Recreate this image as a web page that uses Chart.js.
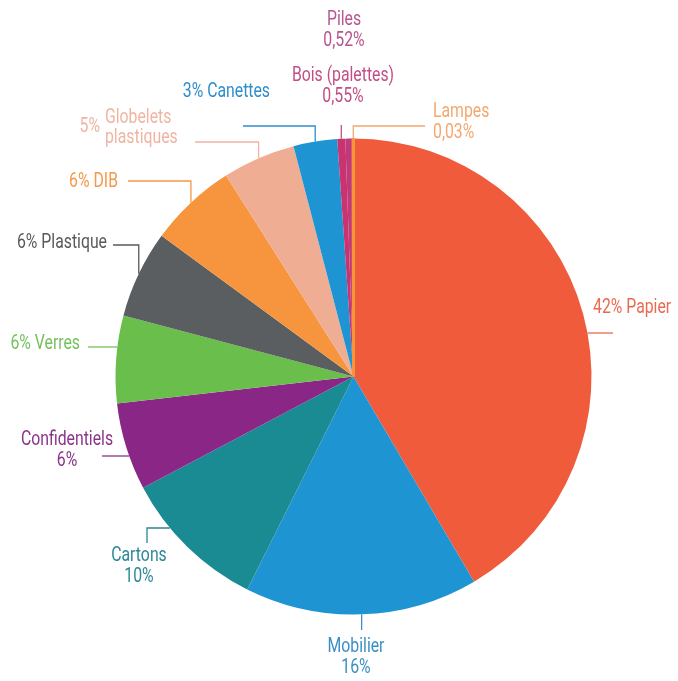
<!DOCTYPE html>
<html>
<head>
<meta charset="utf-8">
<script src="https://cdn.jsdelivr.net/npm/chart.js@4"></script>
<style>
  html, body { margin: 0; padding: 0; background: #ffffff; }
  #wrap { width: 678px; height: 681px; position: relative; }
</style>
</head>
<body>
<div id="wrap"><canvas id="c" width="678" height="681"></canvas></div>
<script>
// ---- data ----
const categories = ['Papier', 'Mobilier', 'Cartons', 'Confidentiels', 'Verres', 'Plastique', 'DIB',
                    'Globelets plastiques', 'Canettes', 'Bois (palettes)', 'Piles', 'Lampes'];
const shares = [42, 16, 10, 6, 6, 6, 6, 5, 3, 0.55, 0.52, 0.03];
const shareLabels = ['42%', '16%', '10%', '6%', '6%', '6%', '6%', '5%', '3%', '0,55%', '0,52%', '0,03%'];

// ---- styles ----
const sliceColors = ['#f05b3b', '#1f94d2', '#1a8a93', '#8a2686', '#69be4c', '#5b5e60', '#f7953e',
                     '#efae94', '#1f94d2', '#c93370', '#c0397a', '#f7953e'];
const textColors = ['#ea6a4f', '#3b8fc6', '#2c8796', '#8a348a', '#74c05e', '#58595b', '#f59847',
                    '#f0b4a2', '#2d8ecb', '#c14f85', '#b75590', '#f3a86f'];
const sliceBorders = [0, 0, 0, 0, 0, 0, 0, 0, 0, 0, 0, 3];

// label layout (text placement + leader routing)
const labelLayout = [
  { style: 'inline', x: 593, y: 308, align: 'left', leader: { type: 'h', y: 333, x: 613 } },
  { style: 'stack', x: 356, y: 647, align: 'center', leader: { type: 'v', y: 630 } },
  { style: 'stack', x: 139, y: 556, align: 'center', leader: { type: 'h', y: 528, x: 147, drop: 543 } },
  { style: 'stack', x: 67, y: 440, align: 'center', leader: { type: 'h', y: 456, x: 102 } },
  { style: 'inline', x: 80, y: 344, align: 'right', leader: { type: 'h', y: 347, x: 88 } },
  { style: 'inline', x: 107, y: 243, align: 'right', leader: { type: 'vh', y: 245, x: 113 } },
  { style: 'inline', x: 118, y: 182, align: 'right', leader: { type: 'vh', y: 181, x: 128 } },
  { style: 'split', x: 102, y: 127, align: 'left', leader: { type: 'vh', y: 142, x: 195 } },
  { style: 'inline', x: 270, y: 92, align: 'right', leader: { type: 'vh', y: 126, x: 243 } },
  { style: 'stack', x: 343, y: 76, align: 'center', leader: { type: 'v', y: 125 } },
  { style: 'stack', x: 344, y: 20, align: 'center', leader: null },
  { style: 'stack', x: 433, y: 112, align: 'left', leader: { type: 'vh', y: 126, x: 425 } }
];

const FONT = '400 20px Roboto, "Liberation Sans", sans-serif';
const SX = 0.79;      // horizontal compression to mimic a condensed face
const LINE_H = 21;

function narrowText(ctx, str, x, y, align) {
  ctx.save();
  ctx.translate(x, y);
  ctx.scale(SX, 1);
  ctx.textAlign = align;
  ctx.textBaseline = 'middle';
  ctx.fillText(str, 0, 0);
  ctx.restore();
}

const labelPlugin = {
  id: 'pieLabels',
  afterDatasetsDraw(chart) {
    const ctx = chart.ctx;
    const meta = chart.getDatasetMeta(0);
    ctx.save();
    ctx.font = FONT;
    meta.data.forEach((arc, i) => {
      const L = labelLayout[i];
      if (!L) return;
      const p = arc.getProps(['x', 'y', 'startAngle', 'endAngle', 'outerRadius'], true);
      const cx = p.x, cy = p.y, r = p.outerRadius;
      const mid = (p.startAngle + p.endAngle) / 2;
      const col = textColors[i];
      ctx.strokeStyle = col;
      ctx.fillStyle = col;
      ctx.lineWidth = 1.3;
      if (L.leader) {
        const ld = L.leader;
        ctx.beginPath();
        if (ld.type === 'v' || ld.type === 'vh') {
          const ex = cx + r * Math.cos(mid), ey = cy + r * Math.sin(mid);
          ctx.moveTo(ex, ey);
          ctx.lineTo(ex, ld.y);
          if (ld.type === 'vh') ctx.lineTo(ld.x, ld.y);
        } else if (ld.type === 'h') {
          const side = Math.cos(mid) >= 0 ? 1 : -1;
          const dy = ld.y - cy;
          const ex = cx + side * Math.sqrt(Math.max(r * r - dy * dy, 0));
          ctx.moveTo(ex, ld.y);
          ctx.lineTo(ld.x, ld.y);
          if (ld.drop !== undefined) ctx.lineTo(ld.x, ld.drop);
        }
        ctx.stroke();
      }
      const name = categories[i], pct = shareLabels[i];
      if (L.style === 'inline') {
        narrowText(ctx, pct + ' ' + name, L.x, L.y, L.align);
      } else if (L.style === 'stack') {
        narrowText(ctx, name, L.x, L.y, L.align);
        narrowText(ctx, pct, L.x, L.y + LINE_H, L.align);
      } else if (L.style === 'split') {
        const words = name.split(' ');
        narrowText(ctx, pct, L.x - 2, L.y, 'right');
        narrowText(ctx, words[0], L.x + 3, L.y - 9, 'left');
        narrowText(ctx, words.slice(1).join(' '), L.x + 3, L.y + 11, 'left');
      }
    });
    ctx.restore();
  }
};

new Chart(document.getElementById('c'), {
  type: 'pie',
  data: {
    labels: categories,
    datasets: [{
      data: shares,
      backgroundColor: sliceColors,
      borderColor: sliceColors,
      borderWidth: sliceBorders,
      borderAlign: 'center'
    }]
  },
  options: {
    responsive: false,
    maintainAspectRatio: false,
    animation: false,
    layout: { padding: { left: 114, right: 85, top: 137, bottom: 65 } },
    plugins: {
      legend: { display: false },
      tooltip: { enabled: false }
    }
  },
  plugins: [labelPlugin]
});
</script>
</body>
</html>
